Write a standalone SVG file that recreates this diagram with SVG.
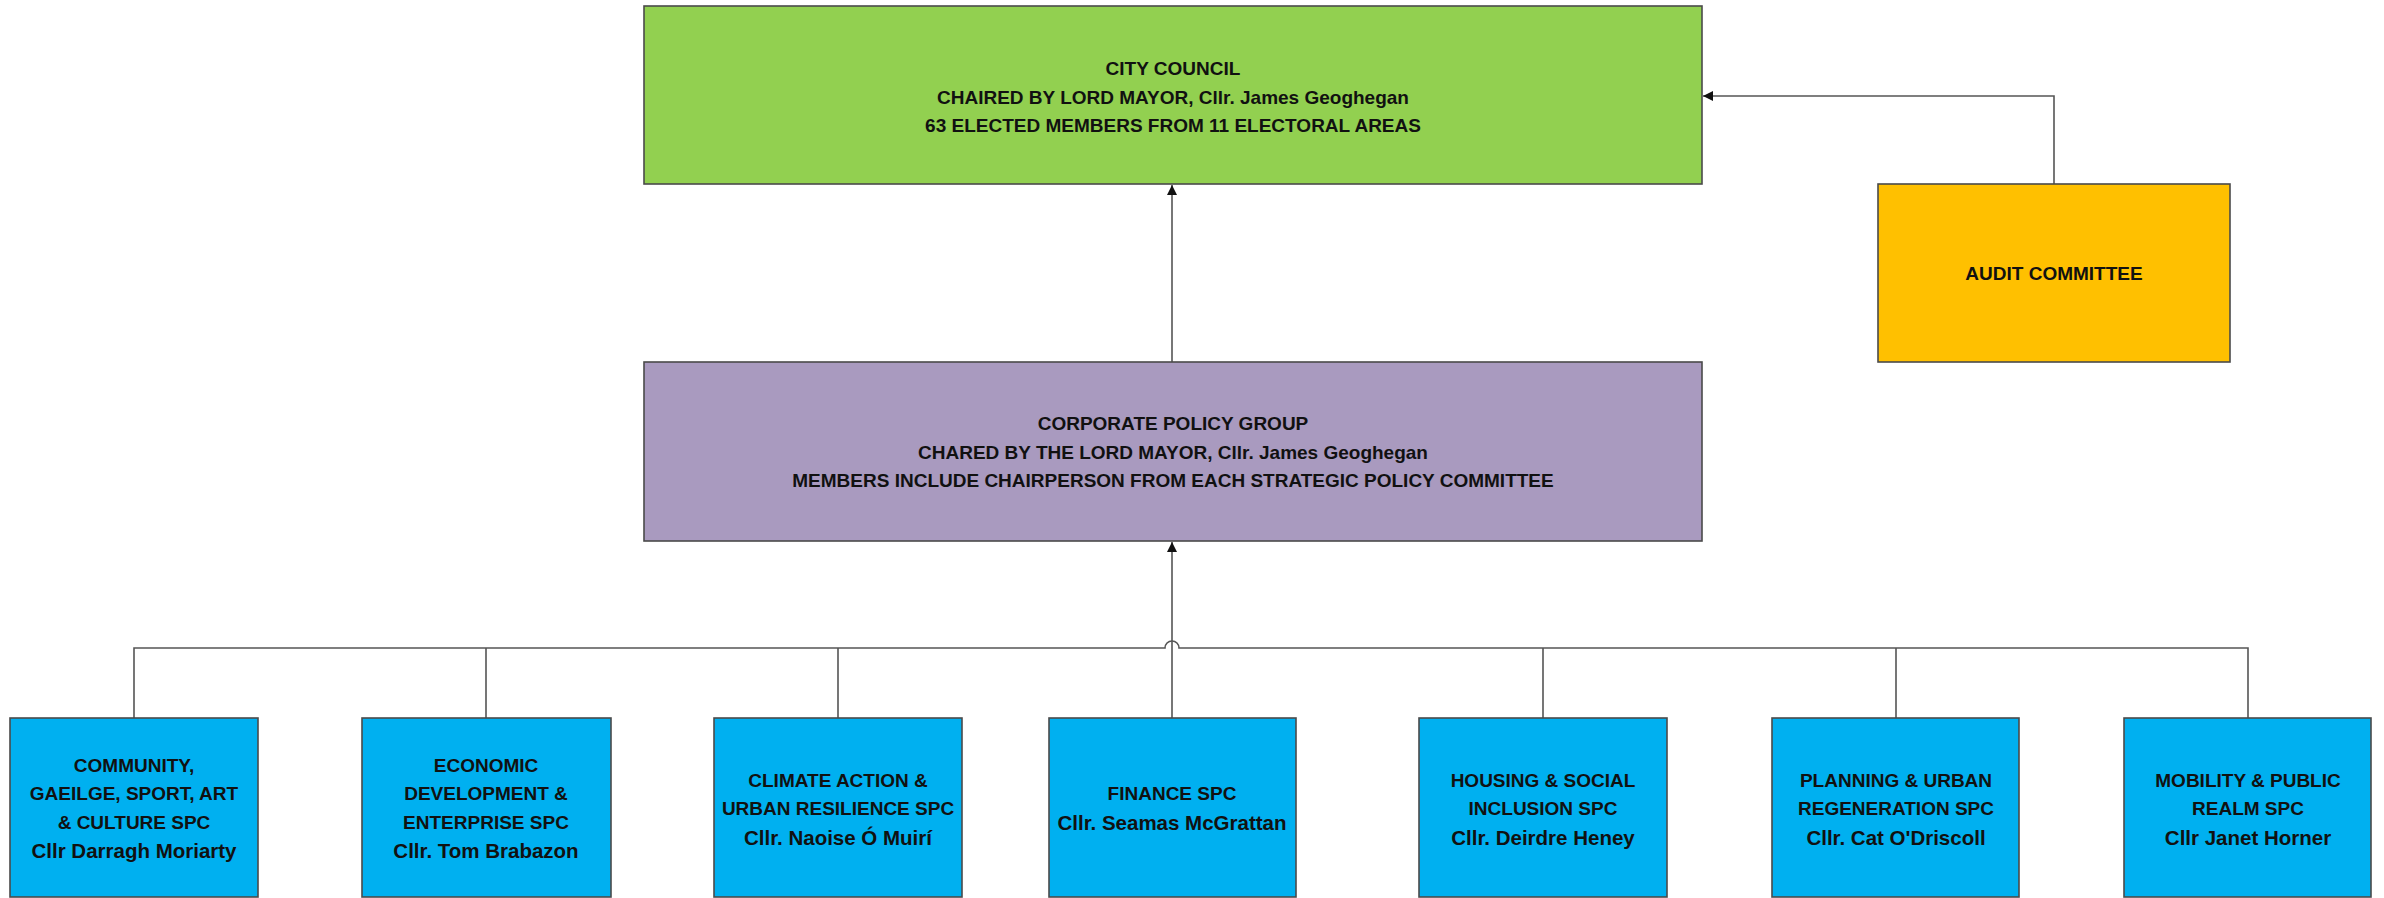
<svg xmlns="http://www.w3.org/2000/svg" width="2384" height="898" viewBox="0 0 2384 898">
<style>
.box{stroke:#4a4a4a;stroke-width:1.6}
.green{fill:#92D050}
.purple{fill:#A99ABF}
.orange{fill:#FFC000}
.blue{fill:#00B0F0}
text{font-family:"Liberation Sans",Arial,sans-serif;font-weight:bold;font-size:19px;fill:#111;text-anchor:middle;dominant-baseline:central}
text.nm{font-size:20.5px}
.conn{fill:none;stroke:#555;stroke-width:1.6}
</style>
<defs>
<marker id="arr" viewBox="0 0 10 10" refX="10" refY="5" markerWidth="10" markerHeight="10" markerUnits="userSpaceOnUse" orient="auto">
<path d="M0,0 L10,5 L0,10 Z" fill="#111"/>
</marker>
</defs>
<rect width="2384" height="898" fill="#ffffff"/>
<g id="connectors">
<path class="conn" d="M2054,184 V96 H1703" marker-end="url(#arr)"/>
<path class="conn" d="M1172,362 V185" marker-end="url(#arr)"/>
<path class="conn" d="M1172,718 V542" marker-end="url(#arr)"/>
<path class="conn" d="M134,718 V648 H1165 A7,7 0 0 1 1179,648 H2248 V718"/>
<path class="conn" d="M486,648 V718 M838,648 V718 M1543,648 V718 M1896,648 V718"/>
</g>
<g id="city-council">
<rect class="box green" x="644" y="6" width="1058" height="178"/>
<text x="1173" y="68">CITY COUNCIL</text>
<text x="1173" y="97">CHAIRED BY LORD MAYOR, Cllr. James Geoghegan</text>
<text x="1173" y="125">63 ELECTED MEMBERS FROM 11 ELECTORAL AREAS</text>
</g>
<g id="audit-committee">
<rect class="box orange" x="1878" y="184" width="352" height="178"/>
<text x="2054" y="273">AUDIT COMMITTEE</text>
</g>
<g id="corporate-policy-group">
<rect class="box purple" x="644" y="362" width="1058" height="179"/>
<text x="1173" y="423">CORPORATE POLICY GROUP</text>
<text x="1173" y="452">CHARED BY THE LORD MAYOR, Cllr. James Geoghegan</text>
<text x="1173" y="480">MEMBERS INCLUDE CHAIRPERSON FROM EACH STRATEGIC POLICY COMMITTEE</text>
</g>
<g id="spc-community">
<rect class="box blue" x="10" y="718" width="248" height="179"/>
<text x="134" y="765">COMMUNITY,</text>
<text x="134" y="793">GAEILGE, SPORT, ART</text>
<text x="134" y="822">&amp; CULTURE SPC</text>
<text class="nm" x="134" y="850">Cllr Darragh Moriarty</text>
</g>
<g id="spc-economic">
<rect class="box blue" x="362" y="718" width="249" height="179"/>
<text x="486" y="765">ECONOMIC</text>
<text x="486" y="793">DEVELOPMENT &amp;</text>
<text x="486" y="822">ENTERPRISE SPC</text>
<text class="nm" x="486" y="850">Cllr. Tom Brabazon</text>
</g>
<g id="spc-climate">
<rect class="box blue" x="714" y="718" width="248" height="179"/>
<text x="838" y="780">CLIMATE ACTION &amp;</text>
<text x="838" y="808">URBAN RESILIENCE SPC</text>
<text class="nm" x="838" y="837">Cllr. Naoise Ó Muirí</text>
</g>
<g id="spc-finance">
<rect class="box blue" x="1049" y="718" width="247" height="179"/>
<text x="1172" y="793">FINANCE SPC</text>
<text class="nm" x="1172" y="822">Cllr. Seamas McGrattan</text>
</g>
<g id="spc-housing">
<rect class="box blue" x="1419" y="718" width="248" height="179"/>
<text x="1543" y="780">HOUSING &amp; SOCIAL</text>
<text x="1543" y="808">INCLUSION SPC</text>
<text class="nm" x="1543" y="837">Cllr. Deirdre Heney</text>
</g>
<g id="spc-planning">
<rect class="box blue" x="1772" y="718" width="247" height="179"/>
<text x="1896" y="780">PLANNING &amp; URBAN</text>
<text x="1896" y="808">REGENERATION SPC</text>
<text class="nm" x="1896" y="837">Cllr. Cat O'Driscoll</text>
</g>
<g id="spc-mobility">
<rect class="box blue" x="2124" y="718" width="247" height="179"/>
<text x="2248" y="780">MOBILITY &amp; PUBLIC</text>
<text x="2248" y="808">REALM SPC</text>
<text class="nm" x="2248" y="837">Cllr Janet Horner</text>
</g>
</svg>
